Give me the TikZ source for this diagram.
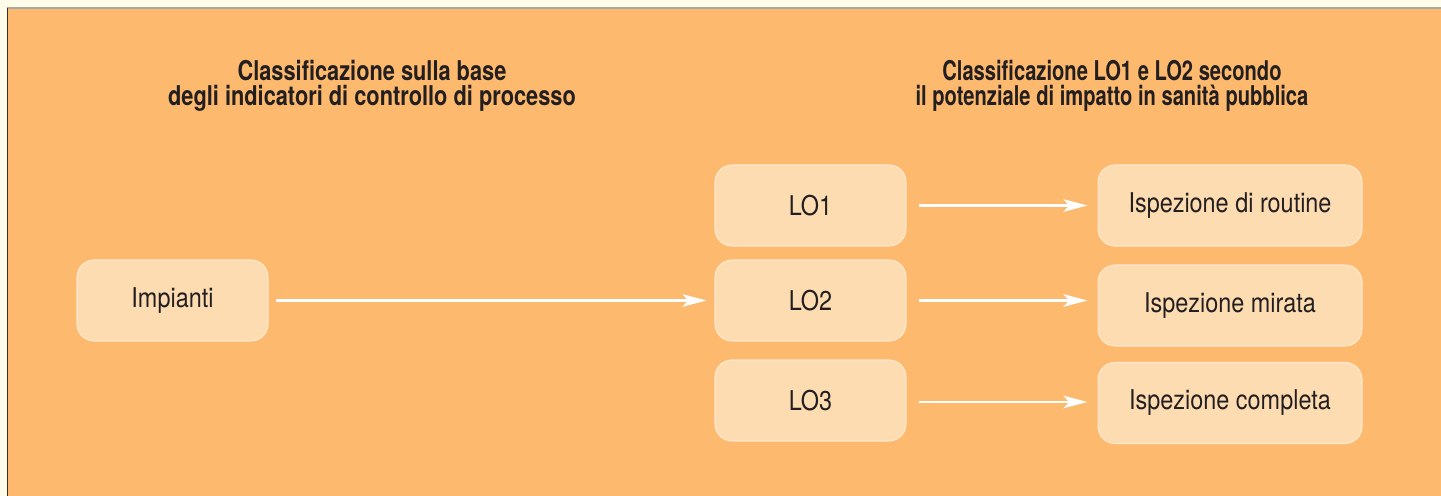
\documentclass[tikz,border=0pt]{standalone}
\usepackage{fontspec}
\setmainfont{TeX Gyre Heros}
\newfontfamily\boxfont{TeX Gyre Heros}[FakeStretch=0.86]
\newfontfamily\headfont{TeX Gyre Heros}[FakeStretch=0.74]
\newfontfamily\headfontwide{TeX Gyre Heros}[FakeStretch=0.80]
\usetikzlibrary{arrows.meta}

\definecolor{cream}{HTML}{FFFCEA}
\definecolor{panel}{HTML}{FDB96D}
\definecolor{boxfill}{HTML}{FEDCB2}
\definecolor{boxline}{HTML}{FFE9CF}
\definecolor{ink}{HTML}{231F20}

\tikzset{
  level/.style={draw=boxline, line width=0.6pt, fill=boxfill, rounded corners=0.34cm,
    minimum width=3.82cm, minimum height=1.62cm, inner sep=0pt,
    text=ink, font=\boxfont\fontsize{15.5}{16}\selectfont},
  action/.style={level, minimum width=5.28cm},
  heading/.style={align=center, text=ink, font=\headfont\bfseries\fontsize{15.5}{14.3}\selectfont},
  flow/.style={white, line width=1.7pt, -{Stealth[length=13.5pt, width=7pt, inset=3pt]}}
}

\begin{document}
\begin{tikzpicture}[x=0.02cm, y=-0.02cm]
  \useasboundingbox (0,0) rectangle (1441,496);

  % Background and frame
  \fill[cream] (0,0) rectangle (1441,496);
  \fill[panel] (8,9) rectangle (1441,496);
  \draw[gray!70, line width=1.2pt] (7,8.3) -- (1441,8.3);
  \draw[ink!85!brown, line width=1.1pt] (7.5,8) -- (7.5,496);

  % Column headings
  \node[heading, font=\headfontwide\bfseries\fontsize{15.5}{14.3}\selectfont] (head1) at (372,86)
    {Classificazione sulla base\\degli indicatori di controllo di processo};
  \node[heading] (head2) at (1112,86) {Classificazione LO1 e LO2 secondo\\il potenziale di impatto in sanit\`a pubblica};

  % Boxes
  \node[level] (imp) at (172.5,300.5) {Impianti};
  \node[level] (lo1) at (810.5,205.5) {LO1};
  \node[level] (lo2) at (810.5,300.5) {LO2};
  \node[level] (lo3) at (810.5,400.5) {LO3};

  \node[action] (rout) at (1230,205.5) {Ispezione di routine};
  \node[action] (mir)  at (1230,305.5) {Ispezione mirata};
  \node[action] (comp) at (1230,403)   {Ispezione completa};

  % Arrows
  \draw[flow] ([xshift=0.14cm]imp.east) -- ([xshift=-0.16cm]lo2.west);
  \draw[flow] ([xshift=0.24cm]lo1.east) -- ([xshift=-0.2cm]lo1.east -| rout.west);
  \draw[flow] ([xshift=0.24cm]lo2.east) -- ([xshift=-0.2cm]lo2.east -| mir.west);
  \draw[flow] ([xshift=0.24cm,yshift=-0.03cm]lo3.east) -- ([xshift=-0.2cm,yshift=-0.03cm]lo3.east -| comp.west);
\end{tikzpicture}
\end{document}
